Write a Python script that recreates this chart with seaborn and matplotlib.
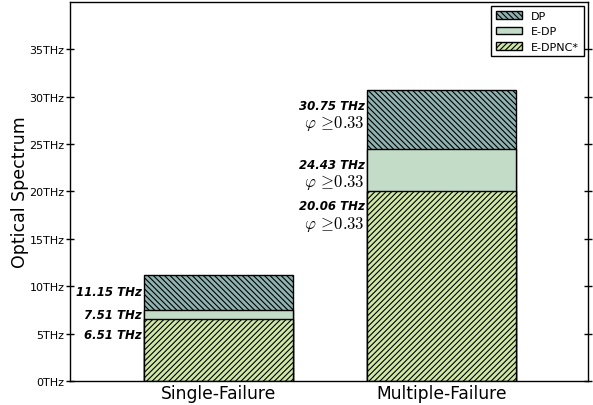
import matplotlib
matplotlib.use("Agg")
import matplotlib.pyplot as plt
import seaborn as sns
import pandas as pd

# Scenario categories and spectrum usage (THz) per scheme
categories = ["Single-Failure", "Multiple-Failure"]
dp_values = [11.15, 30.75]
edp_values = [7.51, 24.43]
edpnc_values = [6.51, 20.06]
# Efficiency bound shown under the multiple-failure labels
phi_bound = "0.33"
y_ticks = [0, 5, 10, 15, 20, 25, 30, 35]

sns.set_style("white")
plt.rcParams["font.family"] = ["DejaVu Sans"]
plt.rcParams["mathtext.fontset"] = "cm"
plt.rcParams["hatch.linewidth"] = 0.8
for key in ["text.color", "axes.labelcolor", "xtick.color", "ytick.color"]:
    plt.rcParams[key] = "black"

df = pd.DataFrame({
    "scenario": categories,
    "DP": dp_values,
    "E-DP": edp_values,
    "E-DPNC*": edpnc_values,
})

fig = plt.figure(figsize=(5.93, 4.06), dpi=100)
ax = fig.add_axes([0.118, 0.059, 0.874, 0.934])

bar_w = 0.667
series = [
    ("DP", "#8fb3b1", "\\" * 6),
    ("E-DP", "#c2dcc8", None),
    ("E-DPNC*", "#cfe8a6", "/" * 6),
]
for name, color, hatch in series:
    sns.barplot(data=df, x="scenario", y=name, color=color, saturation=1,
                width=bar_w, edgecolor="black", linewidth=1.0, hatch=hatch,
                label=name, ax=ax, zorder=2)

ax.set_xlim(-0.666, 1.657)
ax.set_ylim(0, 40)
ax.set_yticks(y_ticks)
ax.set_yticklabels([f"{t}THz" for t in y_ticks], fontsize=8)
ax.tick_params(axis="y", direction="inout", length=6, width=1, left=True,
               right=True, pad=1)
ax.tick_params(axis="x", length=0, labelsize=12.3, pad=2)
ax.set_xlabel("")
ax.set_ylabel("Optical Spectrum", fontsize=12.5, labelpad=0)
for sp in ax.spines.values():
    sp.set_color("black")
    sp.set_linewidth(1.0)

# Value labels to the left of each bar
label_style = dict(fontsize=8.5, fontweight="bold", fontstyle="italic",
                   ha="right", va="center")
single_offsets = [-1.75, -0.45, -1.55]
multi_offsets = [-1.65, -1.55, -1.55]
left0 = 0 - bar_w / 2 - 0.01
left1 = 1 - bar_w / 2 - 0.01
for v, off in zip([dp_values[0], edp_values[0], edpnc_values[0]], single_offsets):
    ax.text(left0, v + off, f"{v:.2f} THz", **label_style)
for v, off in zip([dp_values[1], edp_values[1], edpnc_values[1]], multi_offsets):
    ax.text(left1, v + off, f"{v:.2f} THz", **label_style)
    ax.text(left1, v + off - 1.85, r"$\varphi\,\geq\!" + phi_bound + "$",
            fontsize=12, ha="right", va="center")

leg = ax.legend(loc="upper right", fontsize=8, frameon=True, fancybox=False,
                edgecolor="black", framealpha=1, handlelength=2.4,
                borderaxespad=0.4, labelspacing=0.5)
leg.get_frame().set_linewidth(1.0)

fig.savefig("out.png", dpi=100)
